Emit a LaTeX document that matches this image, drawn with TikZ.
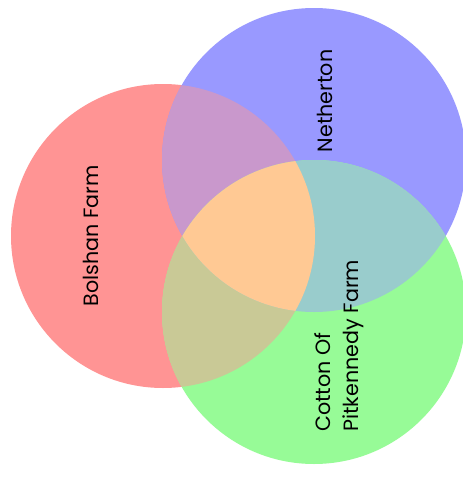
\documentclass[tikz,border=0pt]{standalone}
\usepackage{fontspec}
\setmainfont{Poppins}
\begin{document}
\begin{tikzpicture}[x=0.75pt,y=-0.75pt,
  lbl/.style={rotate=90,inner sep=0pt,font=\fontsize{15.5}{21}\selectfont,text=black}]
\definecolor{cred}{HTML}{FF9494}
\definecolor{cblue}{HTML}{9999FF}
\definecolor{cgreen}{HTML}{97FB97}
\definecolor{crb}{HTML}{C998CC}
\definecolor{crg}{HTML}{C9C996}
\definecolor{cbg}{HTML}{99CCCC}
\definecolor{crbg}{HTML}{FFC994}
\useasboundingbox[fill=white] (0,0) rectangle (462,489);
\def\R{152}
\coordinate (cr) at (163,236);
\coordinate (cb) at (314,160);
\coordinate (cg) at (314,312);
% single sets
\fill[cred] (cr) circle[radius=\R*0.75pt];
\fill[cblue] (cb) circle[radius=\R*0.75pt];
\fill[cgreen] (cg) circle[radius=\R*0.75pt];
% pairwise overlaps
\begin{scope}
  \clip (cr) circle[radius=\R*0.75pt];
  \fill[crb] (cb) circle[radius=\R*0.75pt];
  \fill[crg] (cg) circle[radius=\R*0.75pt];
\end{scope}
\begin{scope}
  \clip (cb) circle[radius=\R*0.75pt];
  \fill[cbg] (cg) circle[radius=\R*0.75pt];
\end{scope}
% triple overlap
\begin{scope}
  \clip (cr) circle[radius=\R*0.75pt];
  \clip (cb) circle[radius=\R*0.75pt];
  \fill[crbg] (cg) circle[radius=\R*0.75pt];
\end{scope}
% labels
\node[lbl] (bolshan) at (91,236) {Bolshan Farm};
\node[lbl] (netherton) at (325,101) {Netherton};
\node[lbl,anchor=west,align=left] (cotton) at (339,432) {Cotton Of\\Pitkennedy Farm};
\end{tikzpicture}
\end{document}
